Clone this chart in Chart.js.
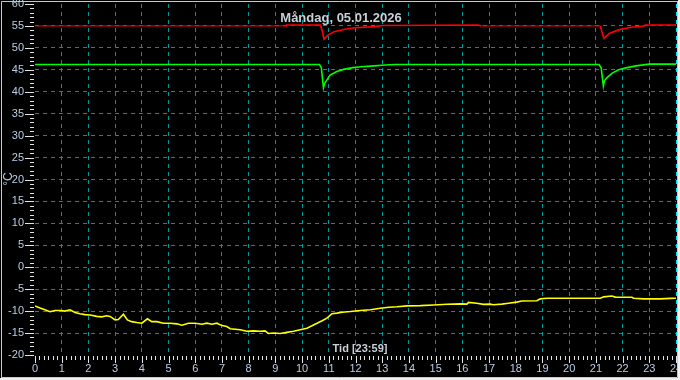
<!doctype html>
<html lang="sv">
<head>
<meta charset="utf-8">
<title>Måndag, 05.01.2026</title>
<script src="https://cdn.jsdelivr.net/npm/chart.js@4.4.0/dist/chart.umd.min.js"></script>
<style>
  html, body { margin: 0; padding: 0; background: #f0f0f0; }
  canvas { display: block; }
</style>
</head>
<body>
<canvas id="kurva" width="680" height="380"></canvas>
<script>
// framledning (röd)
var flowHours = [0, 9.4, 9.42, 10.68, 10.75, 10.82, 10.97, 11.2, 11.55, 11.98, 12.7, 13.0, 16.6, 16.7, 21.17, 21.22, 21.3, 21.5, 21.85, 22.3, 22.8, 22.85, 24];
var flowTemp  = [55.0, 55.0, 55.2, 55.2, 54.0, 52.0, 52.9, 53.7, 54.2, 54.6, 54.85, 55.1, 55.2, 55.0, 55.0, 53.8, 52.2, 53.3, 54.1, 54.7, 55.0, 55.2, 55.2];

// retur (grön)
var returnHours = [0, 10.65, 10.72, 10.8, 10.85, 10.93, 11.05, 11.3, 11.55, 11.9, 12.2, 12.7, 13.1, 13.5, 21.12, 21.2, 21.28, 21.32, 21.4, 21.6, 21.85, 22.17, 22.5, 23.0, 24];
var returnTemp  = [46.2, 46.2, 45.5, 40.9, 42.0, 42.7, 43.8, 44.6, 45.1, 45.5, 45.7, 45.9, 46.1, 46.2, 46.2, 45.4, 41.3, 42.5, 43.1, 44.2, 45.0, 45.5, 45.9, 46.3, 46.3];

// utetemperatur (gul)
var outHours = [0, 0.19, 0.37, 0.56, 0.75, 0.94, 1.12, 1.31, 1.5, 1.68, 1.87, 2.06, 2.31, 2.5, 2.68, 2.81, 3.0, 3.12, 3.31, 3.46, 3.62, 3.81, 4.0, 4.21, 4.37, 4.56, 4.81, 5.06, 5.31, 5.5, 5.75, 6.0, 6.25, 6.43, 6.62, 6.81, 7.0, 7.18, 7.31,
  7.68, 7.93, 8.18, 8.43, 8.61, 8.74, 8.93, 9.18, 9.43, 9.68, 9.93, 10.18, 10.37, 10.56, 10.75, 10.93, 11.12, 11.31, 11.5, 11.81, 12.18, 12.56, 12.93, 13.25, 13.56, 13.93, 14.43, 14.93, 15.43, 15.93,
  16.17, 16.23, 16.54, 16.79, 17.04, 17.16, 17.48, 17.73, 18.04, 18.22, 18.79, 18.92, 19.17, 20.17, 21.17, 21.29, 21.6, 21.73, 22.35, 22.41, 22.79, 23.41, 23.79, 24];
var outTemp = [-8.8, -9.3, -9.7, -10.15, -9.85, -9.85, -10.0, -9.7, -10.3, -10.6, -10.8, -10.9, -11.2, -11.3, -11.07, -11.2, -12.0, -11.9, -10.7, -12.0, -12.4, -12.6, -12.75, -11.75, -12.4, -12.4, -12.75, -12.75, -12.9, -13.2, -12.75, -12.75, -13.0, -12.75, -13.0, -12.75, -13.3, -13.5, -14.0,
  -14.26, -14.6, -14.5, -14.6, -14.5, -15.1, -15.0, -15.1, -14.85, -14.6, -14.26, -13.9, -13.35, -12.75, -12.2, -11.6, -10.6, -10.45, -10.25, -10.1, -9.85, -9.7, -9.35, -9.1, -9.0, -8.8, -8.75, -8.6, -8.45, -8.35,
  -8.4, -8.0, -8.2, -8.45, -8.4, -8.55, -8.4, -8.2, -7.95, -7.7, -7.65, -7.2, -7.05, -7.05, -7.05, -6.75, -6.55, -6.8, -6.85, -7.05, -7.2, -7.2, -7.1, -7.05];

var titleText = "Måndag, 05.01.2026";
var xTitle = "Tid [23:59]";
var yTitle = "°C";

function points(hours, vals) {
    return hours.map(function (h, i) { return { x: h, y: vals[i] }; });
}

var textColor = "#b9cde3";
var gridColor = "#009494";

var ramPlugin = {
    id: "ram",
    beforeDraw: function (chart) {
        var c = chart.ctx;
        c.save();
        c.fillStyle = "#000";
        c.fillRect(0, 0, 680, 380);
        c.restore();
    },
    afterDraw: function (chart) {
        var c = chart.ctx;
        var xs = chart.scales.x, ys = chart.scales.y;
        c.save();
        // små streck på y-axeln
        c.strokeStyle = "#e4e4e4";
        c.lineWidth = 1;
        c.beginPath();
        for (var v = -20; v <= 60; v++) {
            var py = Math.round(ys.getPixelForValue(v)) + 0.5;
            var x0 = (v % 5 === 0) ? 25 : 30;
            c.moveTo(x0, py);
            c.lineTo(34, py);
        }
        // streck på tidsaxeln, var tionde minut
        for (var m = 0; m <= 24 * 6; m++) {
            var px = Math.round(xs.getPixelForValue(m / 6)) + 0.5;
            var y0 = chart.chartArea.bottom + 1;
            var y1 = (m % 6 === 0) ? y0 + 7 : y0 + 4;
            c.moveTo(px, y0);
            c.lineTo(px, y1);
        }
        c.stroke();

        // texter
        c.fillStyle = "#c8d0d8";
        c.textAlign = "center";
        c.textBaseline = "middle";
        c.font = "bold 13px 'Liberation Sans', Arial, sans-serif";
        c.fillText(titleText, 341, 18);
        c.font = "bold 11px 'Liberation Sans', Arial, sans-serif";
        c.fillText(xTitle, 360, 349);
        c.translate(9, 179);
        c.rotate(-Math.PI / 2);
        c.font = "12px 'Liberation Sans', Arial, sans-serif";
        c.fillStyle = textColor;
        c.fillText(yTitle, 0, 0);
        c.restore();

        // ram
        c.save();
        c.strokeStyle = "#c8c8c8";
        c.beginPath();
        c.moveTo(1.5, 378);
        c.lineTo(1.5, 1.5);
        c.lineTo(678, 1.5);
        c.moveTo(677.5, 1);
        c.lineTo(677.5, 377.5);
        c.lineTo(1, 377.5);
        c.stroke();
        c.fillStyle = "#f0f0f0";
        c.fillRect(678, 0, 2, 380);
        c.fillRect(0, 378, 680, 2);
        c.restore();
    }
};

var ctx = document.getElementById("kurva").getContext("2d");
var chart = new Chart(ctx, {
    type: "line",
    data: {
        datasets: [
            {
                data: points(outHours, outTemp),
                borderColor: "#ffff00",
                borderWidth: 1.6
            },
            {
                data: points(returnHours, returnTemp),
                borderColor: "#00ff00",
                borderWidth: 1.6
            },
            {
                data: points(flowHours, flowTemp),
                borderColor: "#ff0000",
                borderWidth: 1.6,
                segment: {
                    borderWidth: function (s) {
                        return (s.p0.parsed.y === 55 && s.p1.parsed.y === 55) ? 1 : 1.6;
                    }
                }
            }
        ]
    },
    plugins: [ramPlugin],
    options: {
        responsive: false,
        animation: false,
        devicePixelRatio: 1,
        layout: { padding: { top: 4, right: 4, left: 0, bottom: 0 } },
        elements: { point: { radius: 0 }, line: { tension: 0 } },
        plugins: { legend: { display: false }, tooltip: { enabled: false } },
        scales: {
            x: {
                type: "linear",
                min: 0,
                max: 24,
                afterFit: function (s) { s.height = 25; s.paddingLeft = 0; s.paddingRight = 0; },
                ticks: {
                    stepSize: 1,
                    autoSkip: false,
                    maxRotation: 0,
                    padding: 7,
                    color: textColor,
                    font: { family: "'Liberation Sans', Arial, sans-serif", size: 11 }
                },
                border: { display: false, dash: [4, 4] },
                grid: {
                    drawTicks: false,
                    lineWidth: 1,
                    color: function (c) {
                        if (c.tick.value === 0) return "rgba(0,0,0,0)";
                        if (c.tick.value === 24) return "#00e8e8";
                        return gridColor;
                    }
                }
            },
            y: {
                type: "linear",
                min: -20,
                max: 60,
                afterFit: function (s) { s.width = 35; s.paddingTop = 0; s.paddingBottom = 0; },
                ticks: {
                    stepSize: 5,
                    padding: 11,
                    color: textColor,
                    font: { family: "'Liberation Sans', Arial, sans-serif", size: 11 }
                },
                border: { display: false, dash: [4, 4] },
                grid: {
                    drawTicks: false,
                    lineWidth: 1,
                    color: function (c) {
                        if (c.tick.value === 60 || c.tick.value === -20) return "rgba(0,0,0,0)";
                        return gridColor;
                    }
                }
            }
        }
    }
});
</script>
</body>
</html>
